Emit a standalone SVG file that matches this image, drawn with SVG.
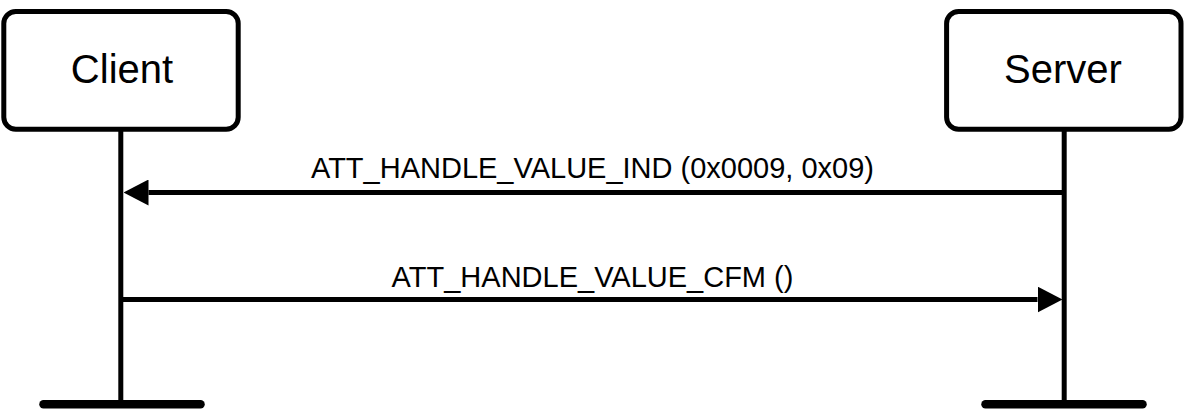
<svg xmlns="http://www.w3.org/2000/svg" width="1186" height="418" viewBox="0 0 1186 418">
  <style>
    .box { fill: #ffffff; stroke: #000000; stroke-width: 5; }
    .life { stroke: #000000; stroke-width: 5; fill: none; }
    .bar { stroke: #000000; stroke-width: 8.5; stroke-linecap: round; fill: none; }
    .msg { stroke: #000000; stroke-width: 5; fill: none; }
    .lbl { font-family: "Liberation Sans", Arial, Helvetica, sans-serif; font-size: 40px; fill: #000000; text-anchor: middle; }
    .mlbl { font-family: "Liberation Sans", Arial, Helvetica, sans-serif; font-size: 29px; fill: #000000; text-anchor: middle; }
  </style>
  <defs>
    <marker id="arrow" viewBox="0 0 25 26" refX="0" refY="13" markerWidth="25" markerHeight="26" markerUnits="userSpaceOnUse" orient="auto">
      <path d="M0,0 L25,13 L0,26 Z" fill="#000000"/>
    </marker>
  </defs>
  <rect width="1186" height="418" fill="#ffffff"/>
  <g id="client">
    <line class="life" x1="120.8" y1="129" x2="120.8" y2="404"/>
    <line class="bar" x1="43.5" y1="404.3" x2="200.5" y2="404.3"/>
    <rect class="box" x="3.8" y="11.5" width="234.4" height="117.7" rx="12" ry="12"/>
    <text class="lbl" x="122" y="83.3">Client</text>
  </g>
  <g id="server">
    <line class="life" x1="1064.2" y1="129" x2="1064.2" y2="404"/>
    <line class="bar" x1="985.5" y1="404.3" x2="1142.5" y2="404.3"/>
    <rect class="box" x="946.6" y="11.5" width="234.4" height="117.7" rx="12" ry="12"/>
    <text class="lbl" x="1063" y="83.3">Server</text>
  </g>
  <g id="connectors">
    <g id="msg1">
      <line class="msg" x1="1064.2" y1="192.5" x2="148.5" y2="192.5" marker-end="url(#arrow)"/>
      <text class="mlbl" x="592.5" y="178.3">ATT_HANDLE_VALUE_IND (0x0009, 0x09)</text>
    </g>
    <g id="msg2">
      <line class="msg" x1="120.8" y1="299.5" x2="1037.5" y2="299.5" marker-end="url(#arrow)"/>
      <text class="mlbl" x="592.5" y="287.3">ATT_HANDLE_VALUE_CFM ()</text>
    </g>
  </g>
</svg>
